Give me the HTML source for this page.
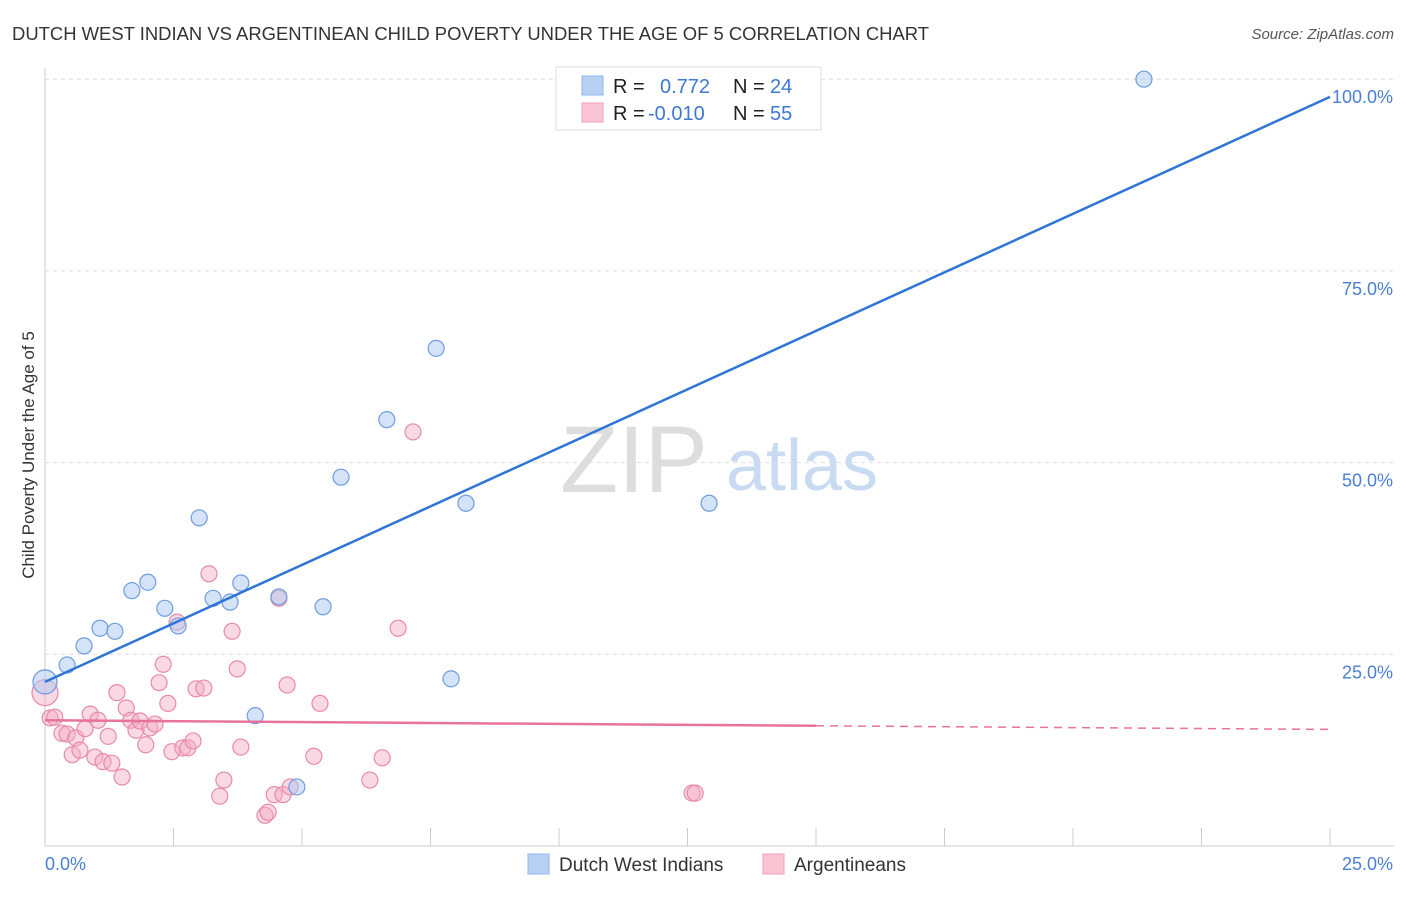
<!DOCTYPE html>
<html><head><meta charset="utf-8"><style>
body{margin:0;background:#fff;font-family:"Liberation Sans",sans-serif;}
svg text{font-family:"Liberation Sans",sans-serif;}
</style></head><body>
<svg id="c" width="1406" height="892" xmlns="http://www.w3.org/2000/svg">
<text x="12" y="40" font-size="18" fill="#333" textLength="917" lengthAdjust="spacingAndGlyphs">DUTCH WEST INDIAN VS ARGENTINEAN CHILD POVERTY UNDER THE AGE OF 5 CORRELATION CHART</text>
<text x="1394" y="39" font-size="15" fill="#555" text-anchor="end" font-style="italic">Source: ZipAtlas.com</text>
<text x="34" y="455" font-size="17" fill="#333" text-anchor="middle" transform="rotate(-90 34 455)">Child Poverty Under the Age of 5</text>
<g><text x="634" y="492" font-size="95" fill="#ddd" text-anchor="middle" font-family="Liberation Serif">ZIP</text><text x="802" y="490" font-size="72" fill="#c9daf3" text-anchor="middle">atlas</text></g>
<g id="grid"></g><g id="marks"></g>
<g>
<rect x="556" y="67" width="265" height="63" fill="#fff" stroke="#ddd"/>
<rect x="582" y="76" width="21" height="19" fill="#b7d0f4" stroke="#8fb3e8"/>
<rect x="582" y="103" width="21" height="19" fill="#f9c4d4" stroke="#efa0b8"/>
<text x="613" y="93" font-size="20" fill="#222">R = </text><text x="660" y="93" font-size="20" fill="#3f78d1">0.772</text>
<text x="733" y="93" font-size="20" fill="#222">N = </text><text x="770" y="93" font-size="20" fill="#3f78d1">24</text>
<text x="613" y="120" font-size="20" fill="#222">R = </text><text x="648" y="120" font-size="20" fill="#3f78d1">-0.010</text>
<text x="733" y="120" font-size="20" fill="#222">N = </text><text x="770" y="120" font-size="20" fill="#3f78d1">55</text>
</g>
<g>
<rect x="528" y="854" width="21" height="20" fill="#b7d0f4" stroke="#8fb3e8"/><text x="559" y="871" font-size="19" fill="#333">Dutch West Indians</text>
<rect x="763" y="854" width="21" height="20" fill="#f9c4d4" stroke="#efa0b8"/><text x="794" y="871" font-size="19" fill="#333">Argentineans</text>
</g>
</svg>
<script>
const yTicks=[25,50,75,100];
const yTickLabels=["25.0%","50.0%","75.0%","100.0%"];
const blueX=[0,0.43,0.76,1.07,1.36,1.69,2.0,2.33,2.59,3.0,3.27,3.6,3.81,4.09,4.55,4.9,5.41,5.76,6.65,7.61,7.9,8.19,12.92,21.38];
const blueY=[21.4,23.6,26.1,28.4,28.0,33.3,34.4,31.0,28.7,42.8,32.3,31.8,34.3,17.0,32.5,7.7,31.2,48.1,55.6,64.9,21.8,44.7,44.7,100];
const pinkPx=[45,50,55,62,67,72,76,80,85,90,95,98,103,108,112,117,122,126,131,136,140,146,150,155,159,163,168,172,177,183,188,193,196,204,209,220,224,232,237,241,265,268,274,279,283,287,290,314,320,370,382,398,413,692,695];
const pinkPy=[693,718,717,733,734,755,738,750,729,714,757,720,762,736,763,693,777,708,720,730,721,745,728,724,683,664,703,752,622,748,748,741,689,688,574,796,780,631,669,747,815,812,795,598,795,685,787,756,703,780,758,628,432,793,793];
const pinkX=pinkPx.map(p=>+((p-45)/51.4).toFixed(2));
const pinkY=pinkPy.map(p=>+((846-p)/7.668).toFixed(1));
const blueLine=[21.4,97.7];
const pinkLine=[16.4,15.2];
const X=v=>45+v*51.4, Y=v=>846-v*7.668;
const NS="http://www.w3.org/2000/svg";
const svg=document.getElementById('c'),grid=document.getElementById('grid'),marks=document.getElementById('marks');
function mk(tag,at,par){const e=document.createElementNS(NS,tag);for(const k in at)e.setAttribute(k,at[k]);par.appendChild(e);return e;}
yTicks.forEach((t,i)=>{
 const g=mk('line',{x1:45,x2:1394,y1:Y(t),y2:Y(t),stroke:'#ddd','stroke-dasharray':'4 4'},grid);
 
 
 const tx=mk('text',{x:1393,y:Y(t)+24,'font-size':18,fill:'#4a7fd4','text-anchor':'end'},grid);tx.textContent=yTickLabels[i];
 
 
});
const ax=mk('line',{x1:45,x2:1394,y1:846,y2:846,stroke:'#ccc'},grid);


const ay=mk('line',{x1:45,x2:45,y1:68,y2:846,stroke:'#ccc'},grid);


for(let i=1;i<=10;i++){const t=mk('line',{x1:X(i*2.5),x2:X(i*2.5),y1:828,y2:846,stroke:'#ccc'},grid);
 
 }
[["0.0%",45,'start'],["25.0%",1393,'end']].forEach(a=>{const t=mk('text',{x:a[1],y:870,'font-size':18,fill:'#4a7fd4','text-anchor':a[2]},grid);t.textContent=a[0];
 
 });
pinkX.forEach((x,i)=>{const c=mk('circle',{cx:X(x),cy:Y(pinkY[i]),r:i==0?13:8,fill:'rgba(245,170,195,0.45)',stroke:'#e88aa8','stroke-width':1.2},marks);
 
 });
blueX.forEach((x,i)=>{const c=mk('circle',{cx:X(x),cy:Y(blueY[i]),r:i==0?12:8,fill:'rgba(170,200,240,0.5)',stroke:'#6f9de0','stroke-width':1.2},marks);
 
 });
const bl=mk('line',{x1:X(0),y1:Y(blueLine[0]),x2:X(25),y2:Y(blueLine[1]),stroke:'#2f75d8','stroke-width':2.5},marks);


const pm=pinkLine[0]+(pinkLine[1]-pinkLine[0])*15/25;
const pl=mk('line',{x1:X(0),y1:Y(pinkLine[0]),x2:X(15),y2:Y(pm),stroke:'#e8739a','stroke-width':2.5},marks);


const pd=mk('line',{x1:X(15),y1:Y(pm),x2:X(25),y2:Y(pinkLine[1]),stroke:'#e8739a','stroke-width':1.5,'stroke-dasharray':'8 6'},marks);


</script>
</body></html>
